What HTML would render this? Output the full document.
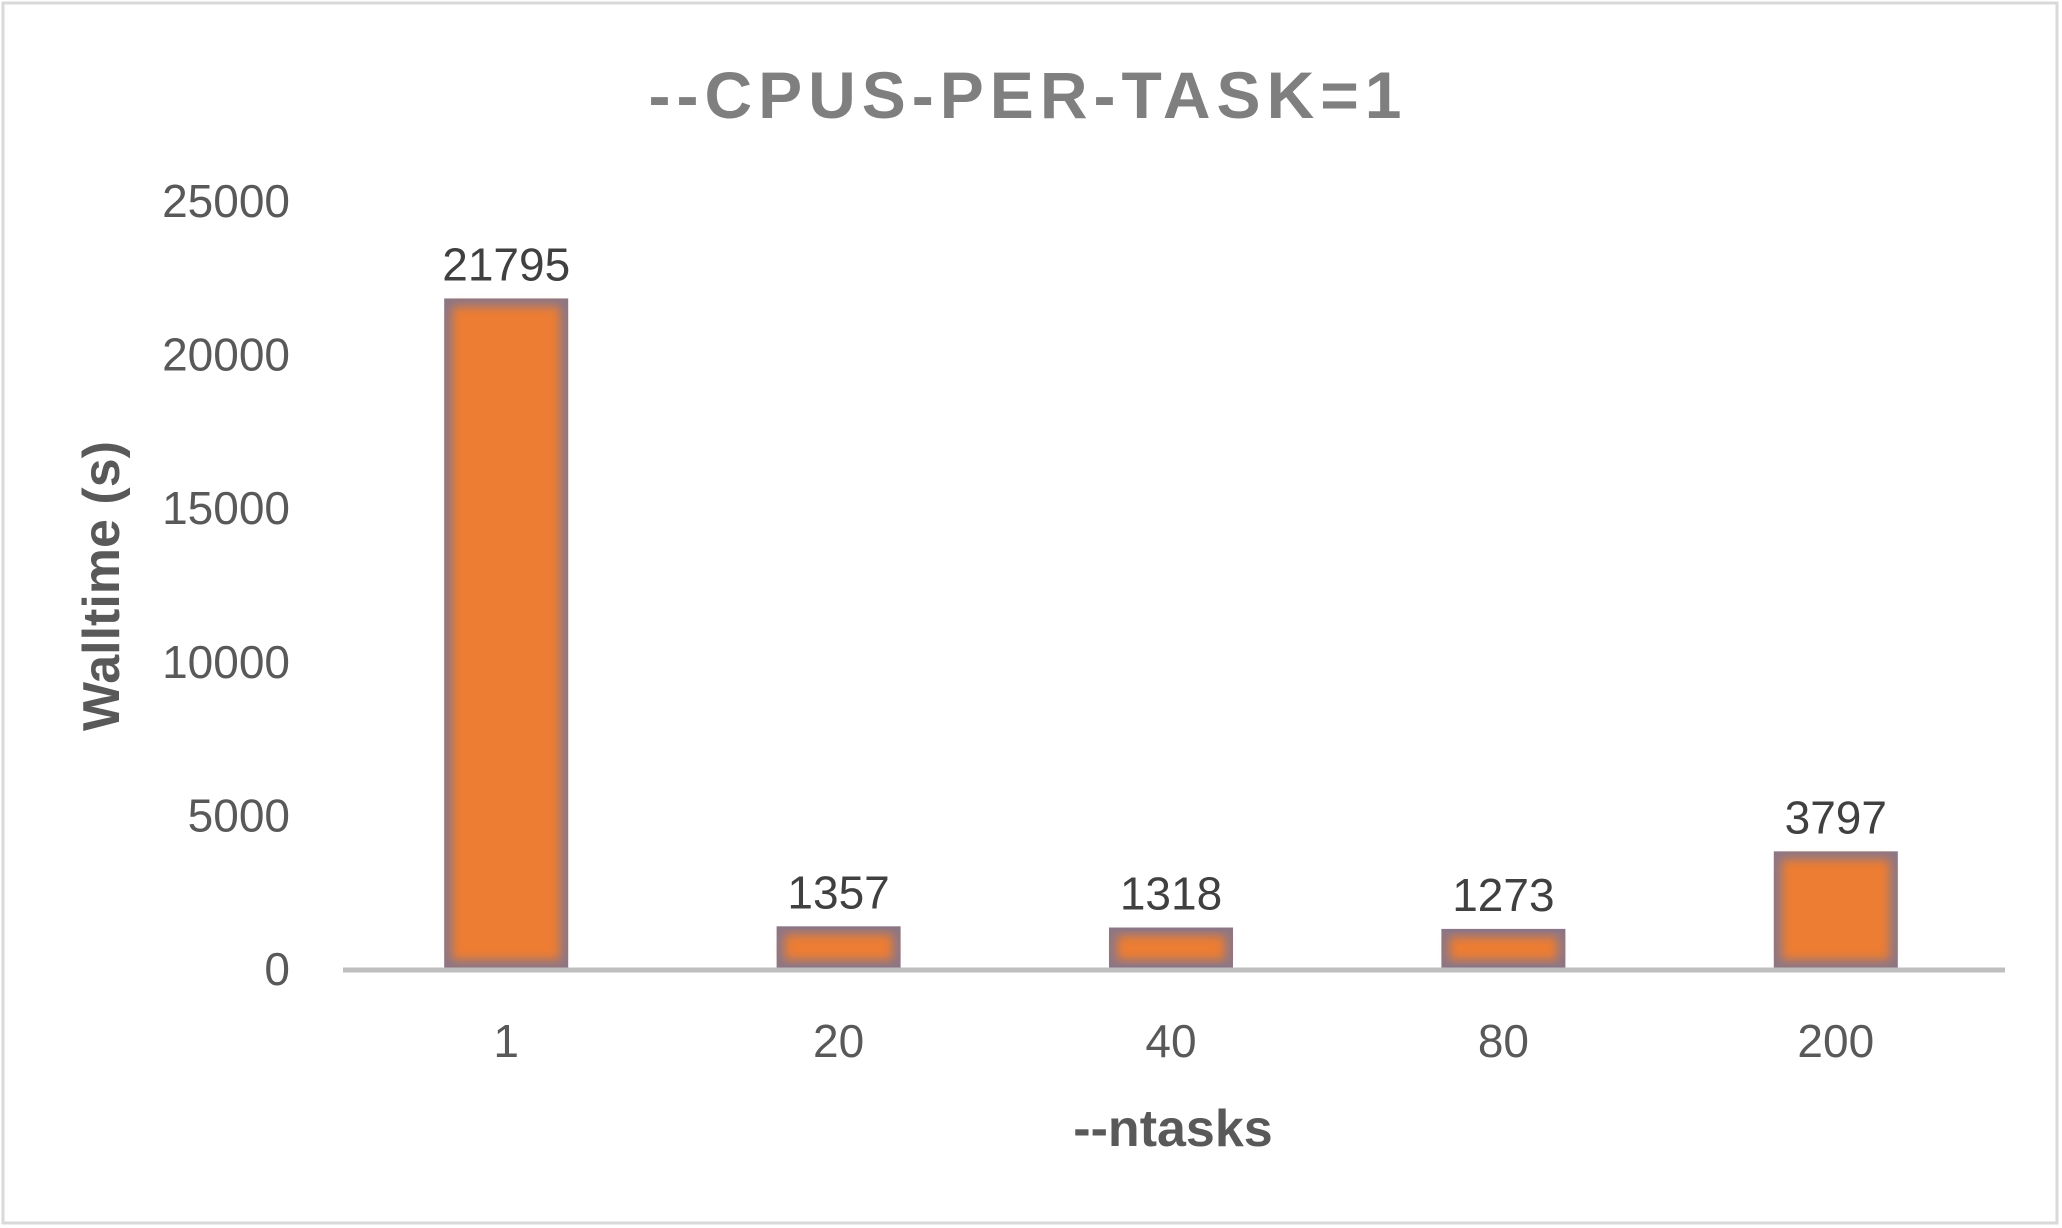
<!DOCTYPE html>
<html><head><meta charset="utf-8"><style>
html,body{margin:0;padding:0;background:#fff;}
svg{display:block;font-family:"Liberation Sans",sans-serif;}
</style></head><body>
<svg id="chart" width="2062" height="1228" viewBox="0 0 2062 1228" xmlns="http://www.w3.org/2000/svg">
<defs>
<filter id="soft" x="-20%" y="-20%" width="140%" height="140%"><feGaussianBlur stdDeviation="5"/></filter>
</defs>
<rect x="3" y="3" width="2054" height="1220" fill="#fff" stroke="#d9d9d9" stroke-width="3"/>
<text x="1028" y="118" text-anchor="middle" font-size="66" font-weight="bold" fill="#7f7f7f" letter-spacing="6">--CPUS-PER-TASK=1</text>
<text transform="translate(119,586) rotate(-90)" text-anchor="middle" font-size="52" font-weight="bold" fill="#595959">Walltime (s)</text>
<text x="1173" y="1146" text-anchor="middle" font-size="52" font-weight="bold" fill="#595959">--ntasks</text>
<g id="yticks"></g>
<g id="bars"></g>
<g id="xlabels"></g>
<line x1="343" y1="970" x2="2005" y2="970" stroke="#bfbfbf" stroke-width="5"/>
</svg>
<script>
const categories = ["1","20","40","80","200"];
const values = [21795,1357,1318,1273,3797];
const yTicks = [0,5000,10000,15000,20000,25000];
const NS = "http://www.w3.org/2000/svg";
const plotLeft = 343, plotRight = 2005, y0 = 968, yTop = 200, yMax = 25000;
const yScale = v => y0 - (v / yMax) * (y0 - yTop);
const band = (plotRight - plotLeft) / categories.length;
const xCenter = i => plotLeft + band * (i + 0.5) - 3;
const barW = 124;
const yt = document.getElementById('yticks');
yTicks.forEach(t => {
  const tx = document.createElementNS(NS, 'text');
  
  
  tx.setAttribute('x', 290);
  tx.setAttribute('y', yScale(t) + 17);
  tx.setAttribute('text-anchor', 'end');
  tx.setAttribute('font-size', '46');
  tx.setAttribute('fill', '#595959');
  tx.textContent = t;
  yt.appendChild(tx);
});
const bg = document.getElementById('bars');
const xl = document.getElementById('xlabels');
values.forEach((v, i) => {
  const cx = xCenter(i);
  const top = yScale(v);
  const h = y0 - top;
  const g = document.createElementNS(NS, 'g');
  
  
  const r = document.createElementNS(NS, 'rect');
  
  
  r.setAttribute('x', cx - barW / 2);
  r.setAttribute('y', top);
  r.setAttribute('width', barW);
  r.setAttribute('height', h);
  r.setAttribute('fill', '#8c7685');
  g.appendChild(r);
  const inset = Math.min(8, h / 4);
  const r2 = document.createElementNS(NS, 'rect');
  
  
  r2.setAttribute('x', cx - barW / 2 + 8);
  r2.setAttribute('y', top + inset);
  r2.setAttribute('width', barW - 16);
  r2.setAttribute('height', Math.max(1, h - 2 * inset));
  r2.setAttribute('fill', '#ed7d31');
  r2.setAttribute('filter', 'url(#soft)');
  g.appendChild(r2);
  bg.appendChild(g);
  const lb = document.createElementNS(NS, 'text');
  
  
  lb.setAttribute('x', cx);
  lb.setAttribute('y', top - 18);
  lb.setAttribute('text-anchor', 'middle');
  lb.setAttribute('font-size', '46');
  lb.setAttribute('fill', '#404040');
  lb.textContent = v;
  bg.appendChild(lb);
  const xt = document.createElementNS(NS, 'text');
  
  
  xt.setAttribute('x', cx);
  xt.setAttribute('y', 1057);
  xt.setAttribute('text-anchor', 'middle');
  xt.setAttribute('font-size', '46');
  xt.setAttribute('fill', '#595959');
  xt.textContent = categories[i];
  xl.appendChild(xt);
});
</script>
</body></html>
